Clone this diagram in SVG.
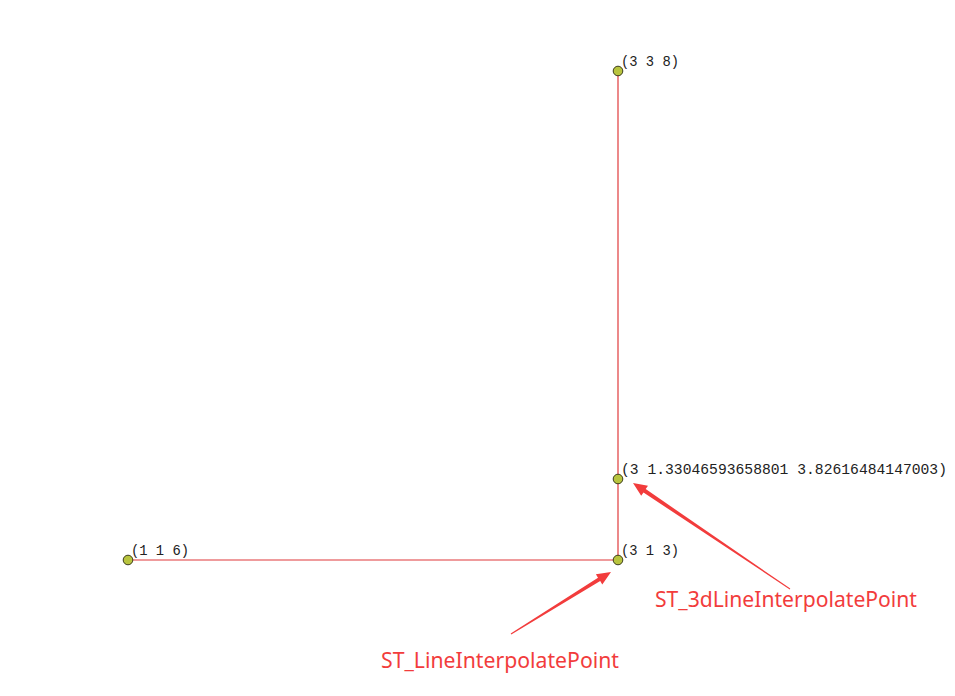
<svg xmlns="http://www.w3.org/2000/svg" width="955" height="696" viewBox="0 0 955 696">
<style>
.pt{fill:#b8c43e;stroke:#3c3c1e;stroke-width:1}
.lbl{font-family:"Liberation Mono","DejaVu Sans Mono",monospace;font-size:14.7px;fill:#222}
.ann{font-family:"Noto Sans","Liberation Sans",sans-serif;font-size:21px;fill:#f23c3c}
.edge{stroke:#e0393b;stroke-width:1.2;fill:none}
.arr{fill:#f23c3c}
</style>
<rect width="955" height="696" fill="#fff"/>
<g id="connectors">
<line class="edge" x1="128" y1="560" x2="618" y2="560"/>
<line class="edge" x1="618" y1="71" x2="618" y2="560"/>
</g>
<g id="p338"><circle class="pt" cx="618" cy="71" r="4.8"/><text class="lbl" x="621" y="66" xml:space="preserve" textLength="58" lengthAdjust="spacingAndGlyphs">(3 3 8)</text></g>
<g id="pinterp3d"><circle class="pt" cx="618" cy="479" r="4.8"/><text class="lbl" x="621" y="474" xml:space="preserve" textLength="326" lengthAdjust="spacingAndGlyphs">(3 1.33046593658801 3.82616484147003)</text></g>
<g id="p116"><circle class="pt" cx="128" cy="560" r="4.8"/><text class="lbl" x="131" y="555" xml:space="preserve" textLength="58" lengthAdjust="spacingAndGlyphs">(1 1 6)</text></g>
<g id="p313"><circle class="pt" cx="618" cy="560" r="4.8"/><text class="lbl" x="621" y="555" xml:space="preserve" textLength="58" lengthAdjust="spacingAndGlyphs">(3 1 3)</text></g>
<g id="ann1">
<polygon class="arr" points="511.3,634.4 600.2,581.1 602.3,584.5 611,572 595.9,574.3 598.0,577.7 510.7,633.6"/>
<text class="ann" x="381" y="668" textLength="238" lengthAdjust="spacingAndGlyphs">ST_LineInterpolatePoint</text>
</g>
<g id="ann2">
<polygon class="arr" points="790.28,588.59 645.7,489.1 648.0,485.8 633,483 641.2,495.8 643.5,492.5 789.72,589.41"/>
<text class="ann" x="655" y="607" textLength="262" lengthAdjust="spacingAndGlyphs">ST_3dLineInterpolatePoint</text>
</g>
</svg>
